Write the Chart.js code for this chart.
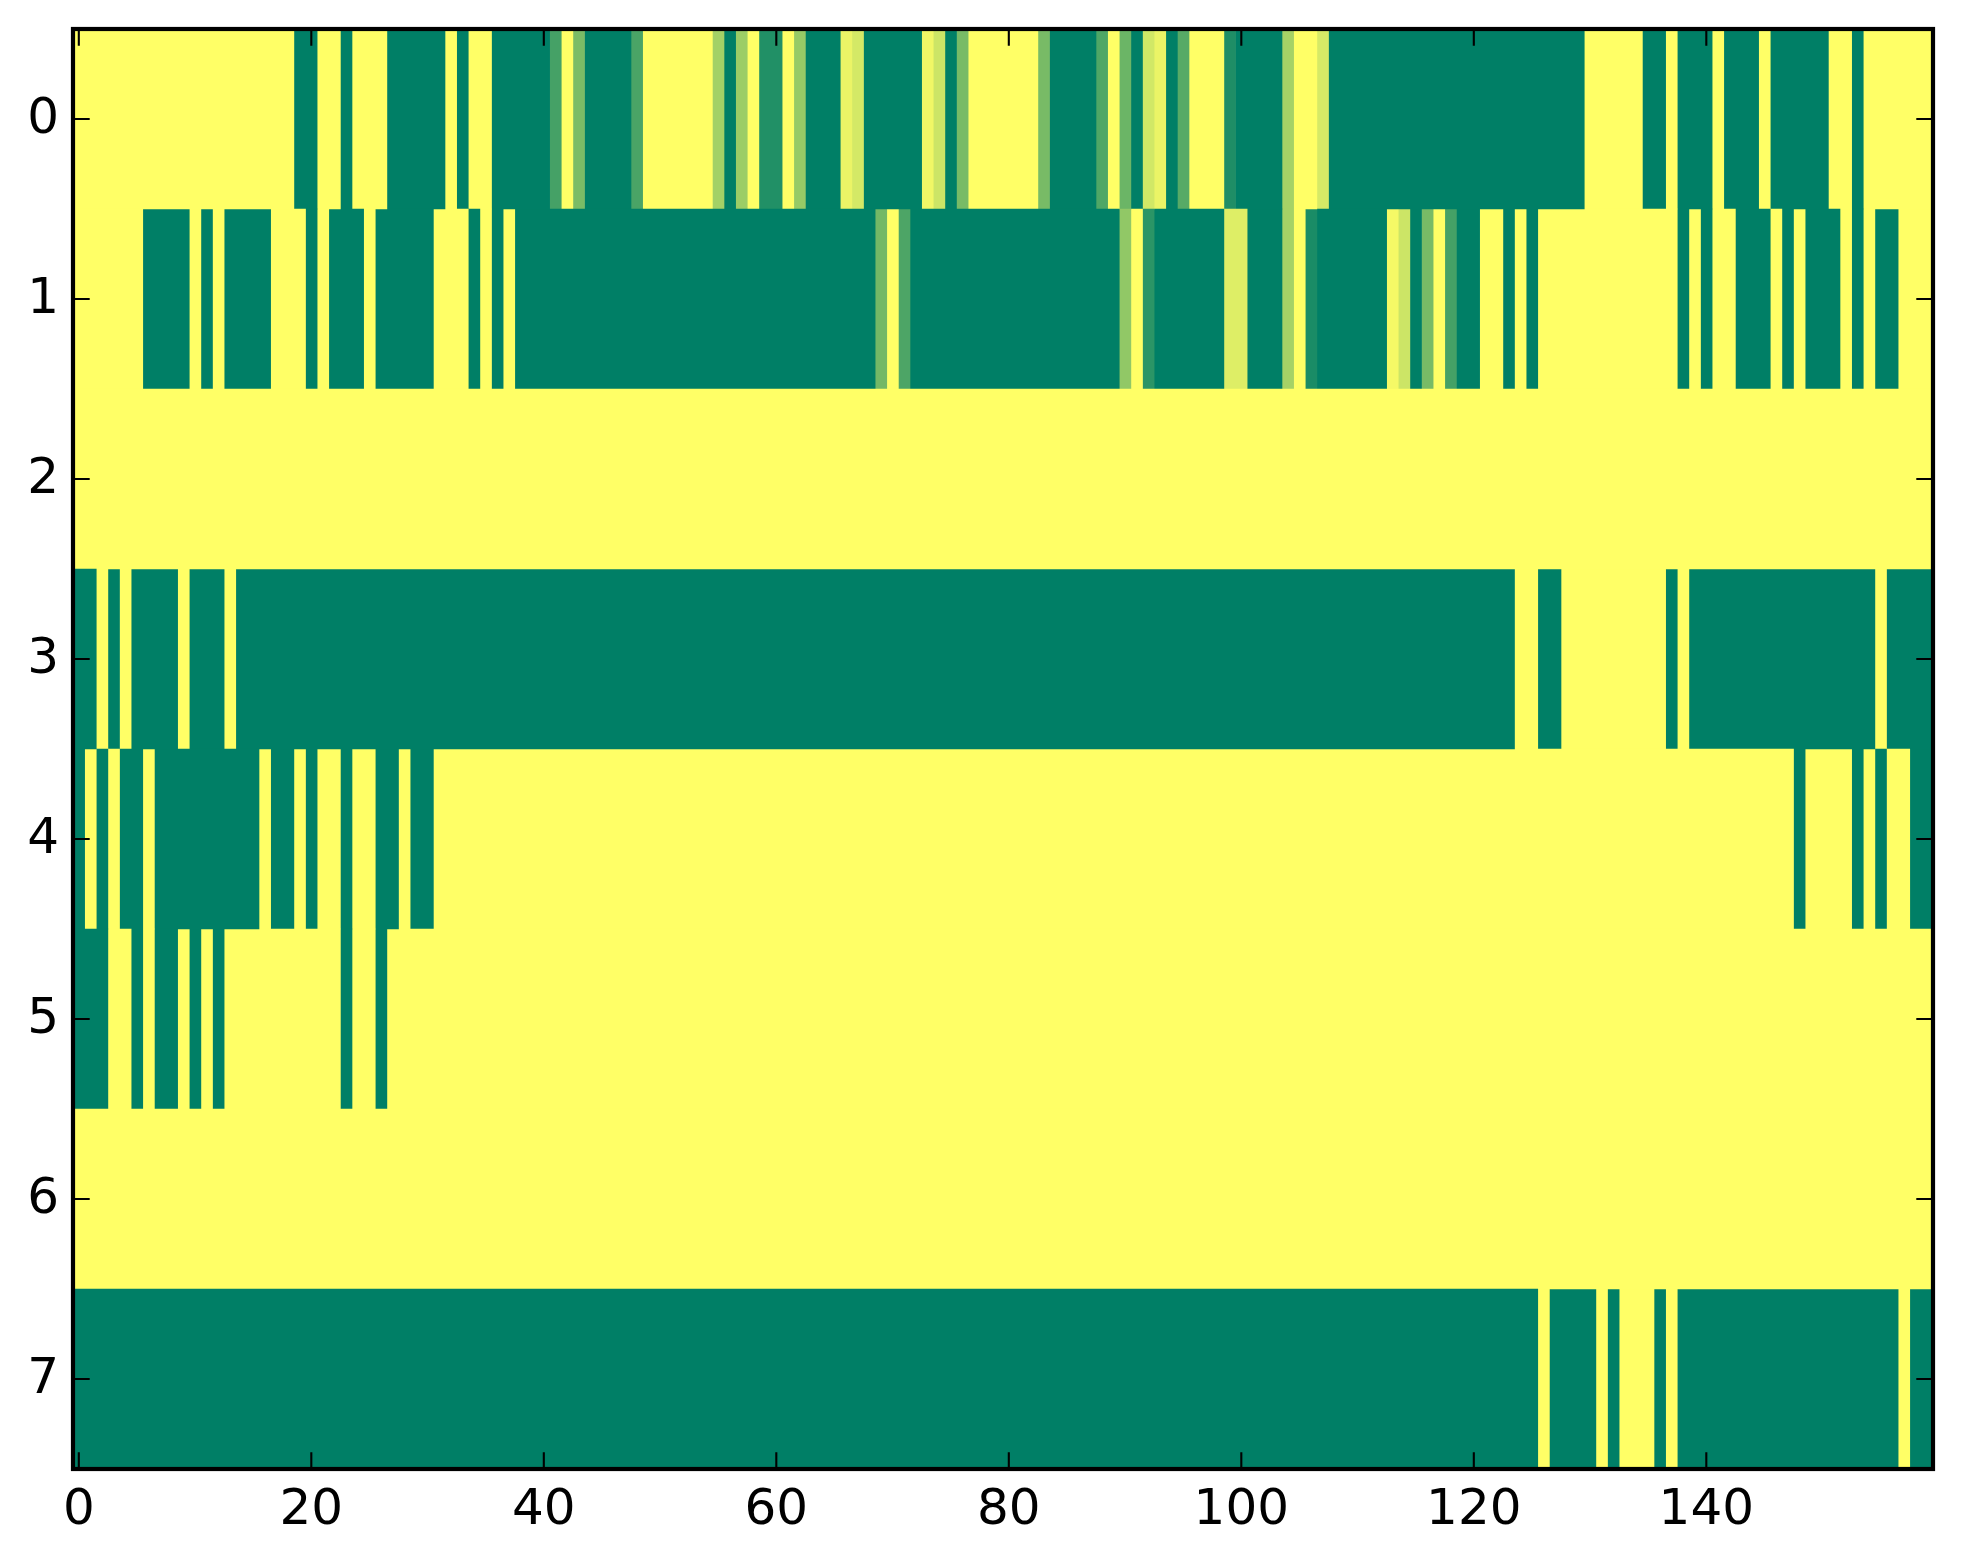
<!DOCTYPE html>
<html>
<head>
<meta charset="utf-8">
<title>Heatmap</title>
<script src="https://cdn.jsdelivr.net/npm/chart.js@4/dist/chart.umd.min.js"></script>
<style>
  html, body { margin: 0; padding: 0; background: #fff; }
  canvas { display: block; }
</style>
</head>
<body>
<canvas id="myChart" width="1963" height="1564"></canvas>
<script>
// Tick labels
const rowLabels = ['0', '1', '2', '3', '4', '5', '6', '7'];
const xTickValues = [0, 20, 40, 60, 80, 100, 120, 140];

// Cell values per row, 20 columns on each line (0 = green, 1 = yellow)
const row0 = [
  1,1,1,1,1,1,1,1,1,1, 1,1,1,1,1,1,1,1,1,0,
  0,1,1,0,1,1,1,0,0,0, 0,0,1,0,1,1,0,0,0,0,
  0,.27,1,.48,0,0,0,0,.29,1, 1,1,1,1,1,.64,0,.61,1,.13,
  .13,1,.59,0,0,0,.92,.83,0,0, 0,0,0,.94,.8,0,.47,1,1,1,
  1,1,1,.47,0,0,0,0,.31,1, .42,0,.82,.92,0,.34,1,1,1,.12,
  0,0,0,0,.65,1,1,.84,0,0, 0,0,0,0,0,0,0,0,0,0,
  0,0,0,0,0,0,0,0,0,0, 1,1,1,1,1,0,0,1,0,0,
  0,1,0,0,0,1,0,0,0,0, 0,1,1,0,1,1,1,1,1,1
];
const row1 = [
  1,1,1,1,1,1,0,0,0,0, 1,0,1,0,0,0,0,1,1,1,
  0,1,0,0,0,1,0,0,0,0, 0,1,1,1,0,1,0,1,0,0,
  0,0,0,0,0,0,0,0,0,0, 0,0,0,0,0,0,0,0,0,0,
  0,0,0,0,0,0,0,0,0,.45, 1,.3,0,0,0,0,0,0,0,0,
  0,0,0,0,0,0,0,0,0,0, .57,1,.17,0,0,0,0,0,0,.87,
  .87,0,0,0,.65,1,.1,0,0,0, 0,0,0,.96,.8,0,.47,1,.27,0,
  0,1,1,0,1,0,1,1,1,1, 1,1,1,1,1,1,1,1,0,1,
  0,1,1,0,0,0,1,0,1,0, 0,0,1,0,1,0,0,1,1,1
];
const row2 = [
  1,1,1,1,1,1,1,1,1,1, 1,1,1,1,1,1,1,1,1,1,
  1,1,1,1,1,1,1,1,1,1, 1,1,1,1,1,1,1,1,1,1,
  1,1,1,1,1,1,1,1,1,1, 1,1,1,1,1,1,1,1,1,1,
  1,1,1,1,1,1,1,1,1,1, 1,1,1,1,1,1,1,1,1,1,
  1,1,1,1,1,1,1,1,1,1, 1,1,1,1,1,1,1,1,1,1,
  1,1,1,1,1,1,1,1,1,1, 1,1,1,1,1,1,1,1,1,1,
  1,1,1,1,1,1,1,1,1,1, 1,1,1,1,1,1,1,1,1,1,
  1,1,1,1,1,1,1,1,1,1, 1,1,1,1,1,1,1,1,1,1
];
const row3 = [
  0,0,1,0,1,0,0,0,0,1, 0,0,0,1,0,0,0,0,0,0,
  0,0,0,0,0,0,0,0,0,0, 0,0,0,0,0,0,0,0,0,0,
  0,0,0,0,0,0,0,0,0,0, 0,0,0,0,0,0,0,0,0,0,
  0,0,0,0,0,0,0,0,0,0, 0,0,0,0,0,0,0,0,0,0,
  0,0,0,0,0,0,0,0,0,0, 0,0,0,0,0,0,0,0,0,0,
  0,0,0,0,0,0,0,0,0,0, 0,0,0,0,0,0,0,0,0,0,
  0,0,0,0,1,1,0,0,1,1, 1,1,1,1,1,1,1,0,1,0,
  0,0,0,0,0,0,0,0,0,0, 0,0,0,0,0,1,0,0,0,0
];
const row4 = [
  0,1,0,1,0,0,1,0,0,0, 0,0,0,0,0,0,1,0,0,1,
  0,1,1,0,1,1,0,0,1,0, 0,1,1,1,1,1,1,1,1,1,
  1,1,1,1,1,1,1,1,1,1, 1,1,1,1,1,1,1,1,1,1,
  1,1,1,1,1,1,1,1,1,1, 1,1,1,1,1,1,1,1,1,1,
  1,1,1,1,1,1,1,1,1,1, 1,1,1,1,1,1,1,1,1,1,
  1,1,1,1,1,1,1,1,1,1, 1,1,1,1,1,1,1,1,1,1,
  1,1,1,1,1,1,1,1,1,1, 1,1,1,1,1,1,1,1,1,1,
  1,1,1,1,1,1,1,1,0,1, 1,1,1,0,1,0,1,1,0,0
];
const row5 = [
  0,0,0,1,1,0,1,0,0,1, 0,1,0,1,1,1,1,1,1,1,
  1,1,1,0,1,1,0,1,1,1, 1,1,1,1,1,1,1,1,1,1,
  1,1,1,1,1,1,1,1,1,1, 1,1,1,1,1,1,1,1,1,1,
  1,1,1,1,1,1,1,1,1,1, 1,1,1,1,1,1,1,1,1,1,
  1,1,1,1,1,1,1,1,1,1, 1,1,1,1,1,1,1,1,1,1,
  1,1,1,1,1,1,1,1,1,1, 1,1,1,1,1,1,1,1,1,1,
  1,1,1,1,1,1,1,1,1,1, 1,1,1,1,1,1,1,1,1,1,
  1,1,1,1,1,1,1,1,1,1, 1,1,1,1,1,1,1,1,1,1
];
const row6 = [
  1,1,1,1,1,1,1,1,1,1, 1,1,1,1,1,1,1,1,1,1,
  1,1,1,1,1,1,1,1,1,1, 1,1,1,1,1,1,1,1,1,1,
  1,1,1,1,1,1,1,1,1,1, 1,1,1,1,1,1,1,1,1,1,
  1,1,1,1,1,1,1,1,1,1, 1,1,1,1,1,1,1,1,1,1,
  1,1,1,1,1,1,1,1,1,1, 1,1,1,1,1,1,1,1,1,1,
  1,1,1,1,1,1,1,1,1,1, 1,1,1,1,1,1,1,1,1,1,
  1,1,1,1,1,1,1,1,1,1, 1,1,1,1,1,1,1,1,1,1,
  1,1,1,1,1,1,1,1,1,1, 1,1,1,1,1,1,1,1,1,1
];
const row7 = [
  0,0,0,0,0,0,0,0,0,0, 0,0,0,0,0,0,0,0,0,0,
  0,0,0,0,0,0,0,0,0,0, 0,0,0,0,0,0,0,0,0,0,
  0,0,0,0,0,0,0,0,0,0, 0,0,0,0,0,0,0,0,0,0,
  0,0,0,0,0,0,0,0,0,0, 0,0,0,0,0,0,0,0,0,0,
  0,0,0,0,0,0,0,0,0,0, 0,0,0,0,0,0,0,0,0,0,
  0,0,0,0,0,0,0,0,0,0, 0,0,0,0,0,0,0,0,0,0,
  0,0,0,0,0,0,1,0,0,0, 0,1,0,1,1,1,0,1,0,0,
  0,0,0,0,0,0,0,0,0,0, 0,0,0,0,0,0,0,1,0,0
];
const rows = [row0, row1, row2, row3, row4, row5, row6, row7];

// matplotlib "summer" colormap
function summer(v) {
  const r = Math.round(255 * v);
  const g = Math.floor(127.5 * (1 + v));
  return 'rgb(' + r + ',' + g + ',102)';
}

// Floating bar from col to the end of its run of equal values, so no seams show inside a run
function cellBar(row, col) {
  if (col > 0 && row[col - 1] === row[col]) return null;
  let end = col;
  while (end + 1 < row.length && row[end + 1] === row[col]) end++;
  return [col - 0.5, end + 0.5];
}

// One bar dataset per column, one bar per row
const datasets = row0.map((_, col) => ({
  data: rows.map(row => cellBar(row, col)),
  backgroundColor: rows.map(row => summer(row[col])),
  borderWidth: 0,
  barPercentage: 1,
  categoryPercentage: 1,
  grouped: false
}));

// Frame and inward ticks on all four sides
const frameTicks = {
  id: 'frameTicks',
  afterDraw(chart) {
    const { ctx, chartArea: a, scales: { x, y } } = chart;
    const len = 16.7;
    ctx.save();
    ctx.strokeStyle = '#000';
    ctx.lineWidth = 2.1;
    ctx.beginPath();
    xTickValues.forEach(v => {
      const px = x.getPixelForValue(v);
      ctx.moveTo(px, a.top);
      ctx.lineTo(px, a.top + len);
      ctx.moveTo(px, a.bottom);
      ctx.lineTo(px, a.bottom - len);
    });
    rowLabels.forEach((_, i) => {
      const py = y.getPixelForValue(i);
      ctx.moveTo(a.left, py);
      ctx.lineTo(a.left + len, py);
      ctx.moveTo(a.right, py);
      ctx.lineTo(a.right - len, py);
    });
    ctx.stroke();
    ctx.lineWidth = 4.2;
    ctx.strokeRect(a.left, a.top, a.right - a.left, a.bottom - a.top);
    ctx.restore();
  }
};

const tickFont = { family: '"DejaVu Sans"', size: 50 };

new Chart(document.getElementById('myChart').getContext('2d'), {
  type: 'bar',
  data: { labels: rowLabels, datasets: datasets },
  plugins: [frameTicks],
  options: {
    indexAxis: 'y',
    responsive: false,
    animation: false,
    layout: { padding: { left: 0, top: 29, right: 30, bottom: 0 } },
    plugins: { legend: { display: false }, title: { display: false }, tooltip: { enabled: false } },
    scales: {
      x: {
        type: 'linear',
        min: -0.5,
        max: 159.5,
        grid: { display: false, drawTicks: false },
        border: { display: false },
        afterBuildTicks(scale) { scale.ticks = xTickValues.map(v => ({ value: v })); },
        afterFit(scale) { scale.height = 95; scale.paddingLeft = 0; scale.paddingRight = 0; },
        ticks: { color: '#000', font: tickFont, padding: 12, maxRotation: 0, autoSkip: false, callback: v => String(v) }
      },
      y: {
        type: 'category',
        grid: { display: false, drawTicks: false },
        border: { display: false },
        afterFit(scale) { scale.width = 73; scale.paddingTop = 0; scale.paddingBottom = 0; },
        ticks: { color: '#000', font: tickFont, padding: 14, labelOffset: 1, autoSkip: false }
      }
    }
  }
});
</script>
</body>
</html>
